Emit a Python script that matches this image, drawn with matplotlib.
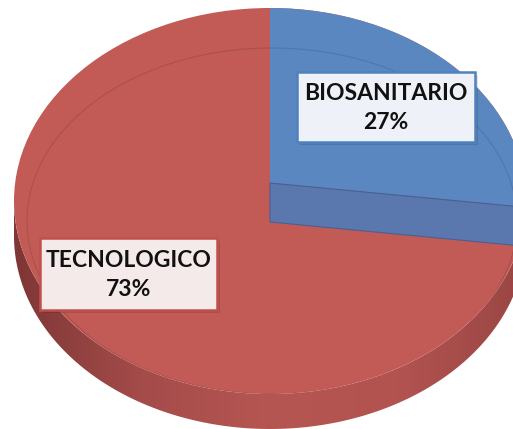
import numpy as np
import matplotlib.pyplot as plt
from matplotlib.patches import Ellipse, Polygon, Rectangle
from matplotlib.colors import LinearSegmentedColormap

# ================================================================
# DATA
# ================================================================
categories = ["BIOSANITARIO", "TECNOLOGICO"]
shares = [27, 73]
top_colors = ["#5B87C1", "#C25B56"]
label_fill = ["#EEF2F8", "#F5EAEA"]
label_edge = ["#4F81BD", "#C0504D"]

# ================================================================
# GEOMETRY OF THE TILTED PIE (pixel space)
# ================================================================
W, H = 513, 429
cx, cy = 270, 201      # centre of top face
rx, ry = 256, 193      # radii of top face
depth = 35             # height of the side wall

fig = plt.figure(figsize=(W / 100, H / 100), dpi=100)
ax = fig.add_axes([0, 0, 1, 1])
ax.set_xlim(0, W)
ax.set_ylim(H, 0)
ax.axis("off")

t = np.linspace(0, np.pi, 200)
front_top = np.column_stack([cx + rx * np.cos(t), cy + ry * np.sin(t)])
front_bot = front_top + [0, depth]

# side wall with a horizontal shading
side = Polygon(np.vstack([front_top, front_bot[::-1]]), closed=True,
               facecolor="none", edgecolor="none")
ax.add_patch(side)
side_cmap = LinearSegmentedColormap.from_list(
    "side", ["#7E3736", "#A44C4A", "#B65652", "#B25350", "#9A4644"])
grad = np.linspace(0, 1, 256).reshape(1, -1)
img = ax.imshow(grad, cmap=side_cmap, extent=[cx - rx, cx + rx, cy + ry + depth + 2, cy - 5],
                aspect="auto", zorder=1)
img.set_clip_path(side)

# top face (red)
top = Ellipse((cx, cy), 2 * rx, 2 * ry, facecolor=top_colors[1], edgecolor="none", zorder=2)
ax.add_patch(top)

# blue slice, boundary angle from the shares
theta = np.deg2rad(90 - 360 * shares[0] / sum(shares))
slope = (ry * -np.sin(theta)) / (rx * np.cos(theta))
corner_top = cy - 18
band = 39
far = 800
blue = Polygon([(cx, -200), (far, -200), (far, corner_top + (far - cx) * slope),
                (cx, corner_top)], closed=True, facecolor=top_colors[0],
               edgecolor="none", zorder=3)
ax.add_patch(blue)
blue.set_clip_path(top)

cut = Polygon([(cx, corner_top), (far, corner_top + (far - cx) * slope),
               (far, corner_top + band + (far - cx) * slope), (cx, corner_top + band)],
              closed=True, facecolor="#5A77AE", edgecolor="#4B5F93", linewidth=0.8, zorder=4)
ax.add_patch(cut)
cut.set_clip_path(top)

# faint bevel line on the top face
bevel = Ellipse((272, 221), 490, 346, facecolor="none", edgecolor="#000000",
                alpha=0.12, linewidth=0.8, zorder=5)
ax.add_patch(bevel)
bevel.set_clip_path(top)

# ================================================================
# LABELS
# ================================================================
boxes = [(297, 72, 178, 70), (40, 238, 177, 72)]
for name, share, box, fc, ec in zip(categories, shares, boxes, label_fill, label_edge):
    x0, y0, bw, bh = box
    ax.add_patch(Rectangle((x0 + 3, y0 + 3), bw, bh, facecolor="#000000", alpha=0.12,
                           edgecolor="none", zorder=6))
    ax.add_patch(Rectangle((x0, y0), bw, bh, facecolor=fc, edgecolor=ec,
                           linewidth=1.8, zorder=7))
    ax.text(x0 + bw / 2, y0 + bh / 2 + 1, f"{name}\n{share}%", ha="center", va="center",
            fontsize=16.5, fontweight="bold", family=["Lato", "DejaVu Sans"],
            linespacing=1.45, color="#111111", zorder=8)

plt.savefig("out.png", dpi=100)
